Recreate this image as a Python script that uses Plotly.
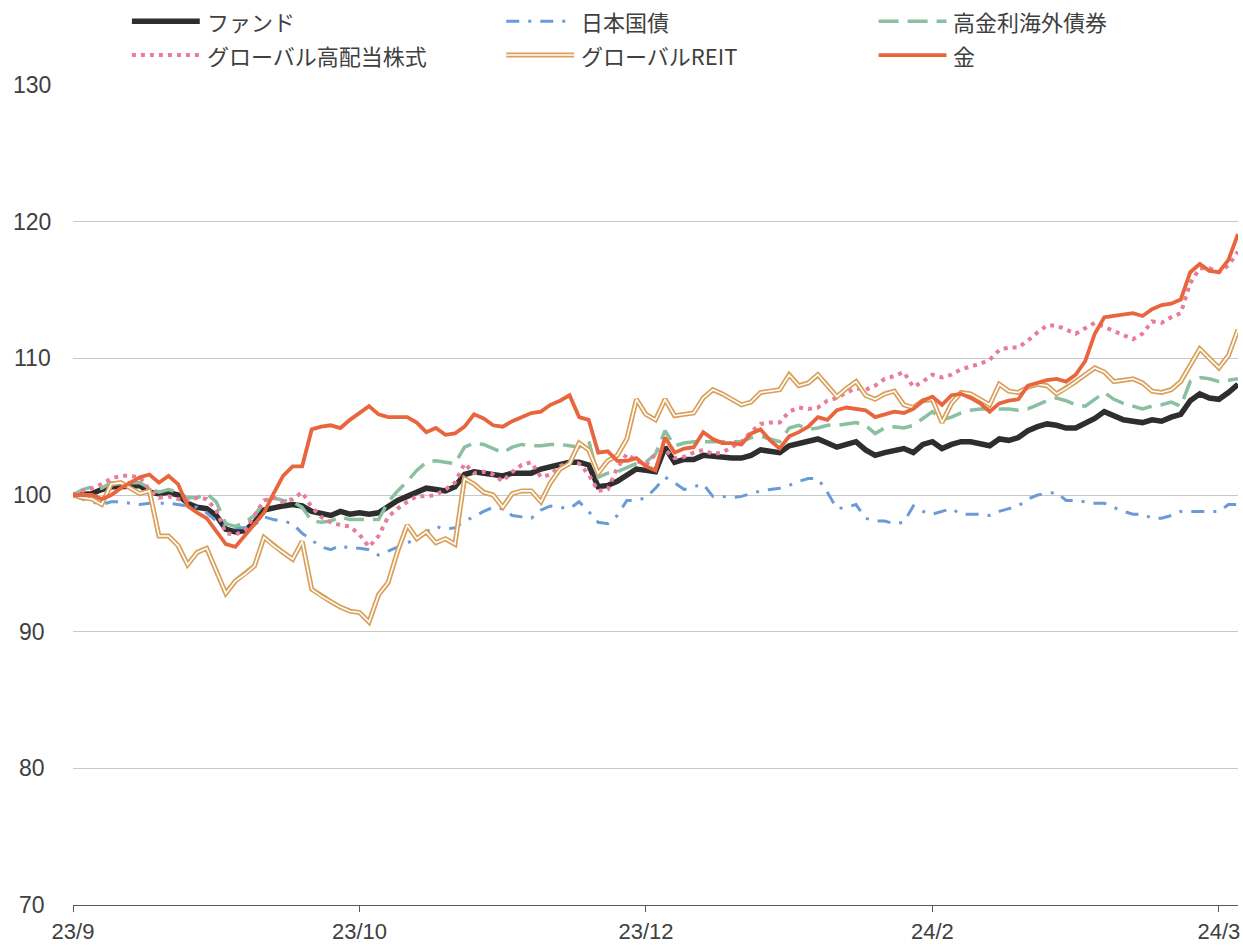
import plotly.graph_objects as go

# series names (legend order)
names = ["ファンド", "日本国債", "高金利海外債券", "グローバル高配当株式", "グローバルREIT", "金"]

# x axis labels, one every 30 points
tick_pos = [0, 30, 60, 90, 120]
tick_text = ["23/9", "23/10", "23/12", "24/2", "24/3"]
y_ticks = [70, 80, 90, 100, 110, 120, 130]

fund = [100.0, 100.0, 100.1, 100.4, 100.6, 100.6, 100.6, 100.7, 100.2, 100.1,
        100.2, 100.0, 99.4, 99.1, 99.0, 98.5, 97.5, 97.3, 97.4, 98.0,
        98.9, 99.1, 99.2, 99.3, 99.2, 98.8, 98.6, 98.5, 98.8, 98.6,
        98.7, 98.6, 98.7, 99.2, 99.6, 99.9, 100.2, 100.5, 100.4, 100.3,
        100.6, 101.5, 101.7, 101.6, 101.6, 101.4, 101.6, 101.6, 101.6, 101.9,
        102.1, 102.3, 102.4, 102.4, 102.2, 100.6, 100.7, 101.0, 101.4, 101.9,
        101.8, 101.7, 103.5, 102.4, 102.6, 102.6, 102.9, 102.8, 102.7, 102.7,
        102.7, 102.9, 103.3, 103.2, 103.1, 103.6, 103.8, 104.0, 104.1, 103.8,
        103.5, 103.7, 103.9, 103.3, 102.9, 103.1, 103.2, 103.4, 103.1, 103.7,
        103.9, 103.4, 103.7, 103.9, 103.9, 103.8, 103.6, 104.1, 104.0, 104.2,
        104.7, 105.0, 105.2, 105.1, 104.9, 104.9, 105.2, 105.6, 106.1, 105.8,
        105.5, 105.4, 105.3, 105.5, 105.4, 105.7, 105.9, 106.9, 107.4, 107.1,
        107.0, 107.5, 108.1]

jgb = [100.0, 99.7, 99.5, 99.3, 99.5, 99.5, 99.4, 99.3, 99.4, 99.4,
       99.4, 99.3, 99.2, 99.1, 98.7, 98.1, 97.7, 97.6, 97.6, 97.8,
       98.4, 98.2, 98.1, 97.9, 97.2, 96.7, 96.2, 96.0, 96.3, 96.1,
       96.1, 96.0, 95.6, 95.9, 96.2, 96.5, 96.8, 97.3, 97.7, 97.5,
       97.6, 98.1, 98.4, 98.8, 99.1, 99.0, 98.5, 98.4, 98.3, 98.9,
       99.2, 99.1, 99.0, 99.5, 98.8, 98.0, 97.9, 98.5, 99.6, 99.6,
       99.8, 100.5, 101.3, 100.9, 100.4, 100.6, 100.8, 99.9, 99.9, 99.8,
       99.9, 100.1, 100.3, 100.4, 100.5, 100.7, 101.0, 101.2, 101.2, 100.2,
       99.0, 99.1, 99.3, 98.3, 98.1, 98.1, 97.9, 98.0, 99.2, 98.8,
       98.6, 98.8, 99.0, 98.6, 98.6, 98.6, 98.5, 98.8, 99.0, 99.2,
       99.7, 100.0, 100.1, 100.2, 99.6, 99.6, 99.5, 99.4, 99.4, 99.1,
       98.8, 98.6, 98.6, 98.3, 98.3, 98.5, 98.8, 98.8, 98.8, 98.8,
       98.8, 99.3, 99.3]

high_yield = [100.0, 100.4, 100.6, 100.5, 100.9, 100.9, 100.9, 100.9, 100.5, 100.2,
              100.4, 100.2, 99.8, 99.8, 100.1, 99.5, 97.9, 97.7, 98.0, 98.5,
              99.5, 99.8, 99.6, 99.5, 99.1, 98.1, 98.0, 98.1, 98.4, 98.2,
              98.2, 98.2, 98.2, 99.5, 100.3, 101.0, 101.8, 102.4, 102.5, 102.4,
              102.3, 103.5, 103.8, 103.7, 103.4, 103.1, 103.5, 103.7, 103.6, 103.6,
              103.7, 103.7, 103.6, 103.5, 104.0, 101.3, 101.6, 101.7, 102.0, 102.3,
              102.4, 103.0, 104.7, 103.6, 103.8, 103.9, 103.9, 103.9, 103.9, 103.9,
              103.9, 104.2, 104.3, 104.1, 103.9, 104.9, 105.1, 104.8, 104.9, 105.1,
              105.1, 105.2, 105.3, 105.1, 104.5, 104.9, 105.0, 104.9, 105.1, 105.6,
              106.1, 105.5, 105.7, 106.0, 106.2, 106.3, 106.3, 106.3, 106.3, 106.2,
              106.3, 106.6, 106.9, 107.1, 106.9, 106.6, 106.5, 107.0, 107.5, 107.0,
              106.7, 106.5, 106.3, 106.5, 106.6, 106.8, 106.5, 108.3, 108.6, 108.5,
              108.3, 108.4, 108.5]

equity = [100.0, 100.3, 100.5, 100.8, 101.2, 101.4, 101.4, 101.3, 100.4, 99.8,
          99.9, 99.7, 99.6, 99.8, 99.7, 98.9, 97.2, 97.1, 97.4, 98.5,
          99.6, 99.8, 99.5, 99.7, 100.2, 99.1, 98.4, 98.0, 97.8, 97.7,
          97.1, 96.2, 97.0, 98.4, 99.0, 99.5, 99.9, 99.9, 100.0, 100.4,
          100.9, 102.3, 101.6, 101.7, 101.5, 101.0, 101.7, 102.2, 102.4, 101.3,
          101.5, 102.1, 102.4, 102.3, 101.5, 100.3, 100.4, 102.0, 103.0, 102.5,
          102.2, 103.0, 103.3, 102.7, 102.8, 103.1, 103.3, 103.0, 103.1, 103.5,
          103.9, 104.6, 105.2, 105.3, 105.3, 106.1, 106.4, 106.3, 106.4, 106.9,
          107.1, 107.5, 107.8, 107.7, 108.0, 108.5, 108.7, 109.0, 107.9, 108.3,
          108.8, 108.6, 108.8, 109.2, 109.4, 109.6, 109.9, 110.6, 110.8, 110.8,
          111.3, 111.9, 112.4, 112.4, 112.1, 111.8, 112.2, 112.6, 112.3, 112.0,
          111.7, 111.4, 111.8, 112.7, 112.6, 113.0, 113.3, 115.5, 116.6, 116.6,
          116.3, 116.8, 117.8]

reit = [100.0, 99.8, 99.7, 99.3, 100.8, 100.9, 100.5, 100.1, 100.3, 97.0,
        97.0, 96.3, 94.9, 95.8, 96.1, 94.5, 92.8, 93.7, 94.2, 94.8,
        96.9, 96.3, 95.8, 95.3, 96.6, 93.1, 92.6, 92.2, 91.8, 91.5,
        91.4, 90.7, 92.7, 93.6, 95.9, 97.8, 96.8, 97.3, 96.5, 96.8,
        96.4, 101.2, 100.8, 100.2, 100.0, 99.1, 100.1, 100.3, 100.3, 99.5,
        100.9, 101.9, 102.3, 103.8, 103.3, 101.6, 102.5, 102.9, 104.1, 107.0,
        105.9, 105.5, 107.0, 105.8, 105.9, 106.0, 107.1, 107.7, 107.4, 107.0,
        106.6, 106.8, 107.5, 107.6, 107.7, 108.8, 108.0, 108.2, 108.8, 108.0,
        107.2, 107.8, 108.3, 107.3, 107.0, 107.4, 107.6, 106.6, 106.4, 106.9,
        107.0, 105.3, 106.7, 107.5, 107.4, 107.0, 106.6, 108.1, 107.6, 107.5,
        107.9, 108.1, 108.0, 107.4, 107.8, 108.3, 108.8, 109.3, 109.0, 108.3,
        108.4, 108.5, 108.2, 107.6, 107.5, 107.7, 108.3, 109.5, 110.7, 110.0,
        109.3, 110.2, 112.1]

gold = [100.0, 100.0, 100.0, 99.7, 100.0, 100.5, 100.9, 101.3, 101.5, 100.9,
        101.4, 100.8, 99.2, 98.7, 98.3, 97.3, 96.4, 96.2, 97.0, 97.8,
        98.7, 100.1, 101.4, 102.1, 102.1, 104.8, 105.0, 105.1, 104.9, 105.5,
        106.0, 106.5, 105.9, 105.7, 105.7, 105.7, 105.3, 104.6, 104.9, 104.4,
        104.5, 105.0, 105.9, 105.6, 105.1, 105.0, 105.4, 105.7, 106.0, 106.1,
        106.6, 106.9, 107.3, 105.7, 105.5, 103.1, 103.2, 102.5, 102.5, 102.7,
        102.1, 101.8, 104.2, 103.1, 103.4, 103.5, 104.6, 104.1, 103.8, 103.8,
        103.7, 104.5, 104.8, 104.0, 103.4, 104.3, 104.6, 105.0, 105.7, 105.5,
        106.2, 106.4, 106.3, 106.2, 105.7, 105.9, 106.1, 106.0, 106.3, 106.9,
        107.2, 106.6, 107.3, 107.4, 107.1, 106.7, 106.1, 106.7, 106.9, 107.0,
        108.0, 108.2, 108.4, 108.5, 108.3, 108.8, 109.8, 111.8, 113.0, 113.1,
        113.2, 113.3, 113.1, 113.6, 113.9, 114.0, 114.3, 116.3, 116.9, 116.4,
        116.3, 117.2, 119.1]

x = list(range(len(fund)))

# colours
c_fund = "#2e2e2e"
c_jgb = "#6b9bd6"
c_hy = "#88c0a0"
c_eq = "#e97c9b"
c_reit = "#d9a05b"
c_gold = "#e8653d"
text_col = "#404040"

W, H = 1243, 947
L, R, T, B = 73, 3, 85, 40
pw, ph = W - L - R, H - T - B


def px(v):
    return (v - L) / pw


def py(v):
    return (H - B - v) / ph


fig = go.Figure()
fig.add_trace(go.Scatter(x=x, y=fund, mode="lines", line=dict(color=c_fund, width=5.5), name=names[0]))
fig.add_trace(go.Scatter(x=x, y=jgb, mode="lines", line=dict(color=c_jgb, width=3, dash="13px,9px,3px,9px"), name=names[1]))
fig.add_trace(go.Scatter(x=x, y=high_yield, mode="lines", line=dict(color=c_hy, width=3.5, dash="20px,9px"), name=names[2]))
fig.add_trace(go.Scatter(x=x, y=equity, mode="lines", line=dict(color=c_eq, width=4, dash="4px,5px"), name=names[3]))
# double line for REIT: orange outline, white core
fig.add_trace(go.Scatter(x=x, y=reit, mode="lines", line=dict(color=c_reit, width=5), name=names[4]))
fig.add_trace(go.Scatter(x=x, y=reit, mode="lines", line=dict(color="white", width=1.6), showlegend=False, hoverinfo="skip"))
fig.add_trace(go.Scatter(x=x, y=gold, mode="lines", line=dict(color=c_gold, width=3.8), name=names[5]))

# hand made legend, 3 columns x 2 rows
legend_items = [
    (names[0], dict(color=c_fund, width=5.5), 132, 21),
    (names[1], dict(color=c_jgb, width=3, dash="13px,9px,3px,9px"), 507, 21),
    (names[2], dict(color=c_hy, width=3.5, dash="20px,9px"), 880, 21),
    (names[3], dict(color=c_eq, width=4, dash="4px,5px"), 132, 55),
    (names[4], dict(color=c_reit, width=5), 507, 55),
    (names[5], dict(color=c_gold, width=3.8), 880, 55),
]
shapes = []
annotations = []
for label, ln, x0, yy in legend_items:
    shapes.append(dict(type="line", xref="paper", yref="paper", x0=px(x0), x1=px(x0 + 68),
                       y0=py(yy), y1=py(yy), line=ln))
    if label == names[4]:
        shapes.append(dict(type="line", xref="paper", yref="paper", x0=px(x0), x1=px(x0 + 68),
                           y0=py(yy), y1=py(yy), line=dict(color="white", width=1.6)))
    annotations.append(dict(text=label, xref="paper", yref="paper", x=px(x0 + 73), y=py(yy),
                            xanchor="left", yanchor="middle", showarrow=False,
                            font=dict(size=22, color=text_col, family="Noto Sans CJK JP")))

# y labels centred left of the plot
for v in y_ticks:
    annotations.append(dict(text=str(v), xref="paper", yref="y", x=px(32), y=v,
                            xanchor="center", yanchor="middle", showarrow=False,
                            font=dict(size=23, color=text_col, family="Liberation Sans, Arial")))

fig.update_layout(
    width=W, height=H,
    margin=dict(l=L, r=R, t=T, b=B),
    paper_bgcolor="white", plot_bgcolor="white",
    showlegend=False,
    shapes=shapes, annotations=annotations,
    font=dict(family="Liberation Sans, Arial", size=22, color=text_col),
)
fig.update_xaxes(range=[0, len(x) - 1], tickvals=tick_pos, ticktext=tick_text,
                 showgrid=False, zeroline=False, showline=True, linecolor="#595959", linewidth=1.2,
                 ticks="outside", ticklen=6, tickcolor="#595959", ticklabeloverflow="allow",
                 tickfont=dict(size=22, color=text_col))
fig.update_yaxes(range=[70, 130], tickvals=y_ticks, showticklabels=False,
                 showgrid=True, gridcolor="#c8c8c8", gridwidth=1, zeroline=False)

# the page's default body margin would push the figure off the window
fig.write_html("out.html", config={"displayModeBar": False},
               post_script="document.body.style.margin='0';document.body.style.overflow='hidden';")
